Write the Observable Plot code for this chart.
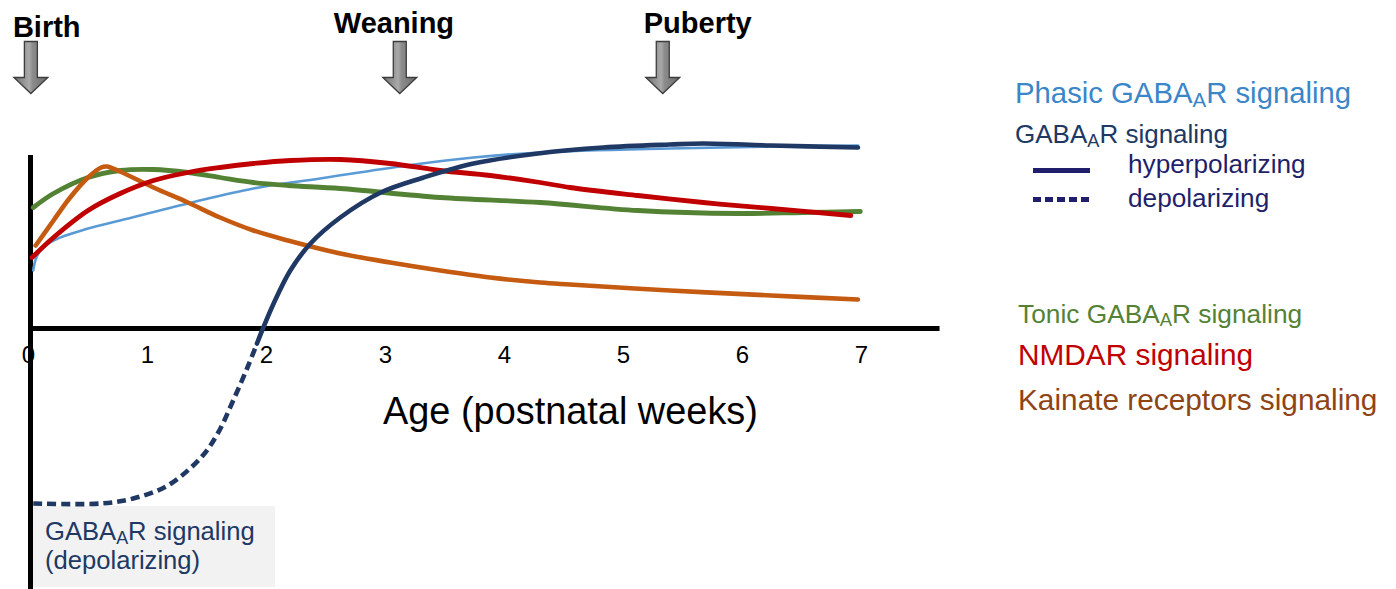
<!DOCTYPE html>
<html><head><meta charset="utf-8">
<script src="https://cdn.jsdelivr.net/npm/d3@7"></script>
<script src="https://cdn.jsdelivr.net/npm/@observablehq/plot@0.6"></script>
<style>
body{margin:0;background:#fff;overflow:hidden}
#wrap{position:relative;width:1396px;height:589px;font-family:"Liberation Sans",Arial,sans-serif}
#wrap svg{position:absolute;left:0;top:0}
.t{position:absolute;white-space:nowrap;line-height:1}
.s{font-size:0.7em;position:relative;top:0.2em;line-height:0}
</style></head><body><div id="wrap"></div>
<script>
// ---- data (age in postnatal weeks, relative signaling level) ----
const xTicks = [0, 1, 2, 3, 4, 5, 6, 7];
const eventNames = ["Birth", "Weaning", "Puberty"];
const eventWeeks = [0.02, 3.12, 5.33];

const phasic = [[0.04,0.58],[0.06,0.69],[0.10,0.78],[0.21,0.88],[0.50,1.00],[0.77,1.08],[1.34,1.25],[1.89,1.40],[2.45,1.50],[3.18,1.63],[3.74,1.71],[4.30,1.76],[5.39,1.80],[6.24,1.82],[6.97,1.83]];
const depolarizing = [[0.04,-1.75],[0.61,-1.75],[0.88,-1.70],[1.17,-1.57],[1.45,-1.29],[1.59,-1.05],[1.72,-0.72],[1.84,-0.39],[1.92,-0.15]];
const hyperpolarizing = [[1.92,-0.15],[1.97,0],[2.06,0.25],[2.20,0.58],[2.37,0.85],[2.62,1.11],[2.96,1.36],[3.32,1.51],[3.74,1.65],[4.28,1.75],[4.83,1.81],[5.39,1.84],[5.67,1.85],[6.24,1.83],[6.97,1.81]];
const tonic = [[0.04,1.21],[0.21,1.35],[0.50,1.51],[0.77,1.58],[1.05,1.59],[1.34,1.56],[1.61,1.51],[1.89,1.46],[2.18,1.43],[2.62,1.40],[3.46,1.31],[4.30,1.26],[5.12,1.18],[5.96,1.15],[6.51,1.16],[6.99,1.17]];
const nmdar = [[0.03,0.71],[0.21,0.91],[0.50,1.18],[0.77,1.35],[1.05,1.48],[1.34,1.56],[1.61,1.61],[1.89,1.65],[2.20,1.68],[2.62,1.69],[3.04,1.65],[3.46,1.58],[3.88,1.53],[4.30,1.46],[4.55,1.41],[5.12,1.33],[5.67,1.26],[6.24,1.20],[6.91,1.13]];
const kainate = [[0.06,0.83],[0.21,1.08],[0.35,1.31],[0.50,1.51],[0.61,1.61],[0.66,1.62],[0.75,1.58],[1.05,1.41],[1.34,1.26],[1.61,1.11],[1.89,0.98],[2.18,0.88],[2.62,0.75],[3.04,0.66],[3.46,0.58],[3.88,0.51],[4.30,0.46],[4.55,0.44],[5.39,0.38],[6.24,0.33],[6.97,0.29]];

// axis extents
const xAxisEnd = 7.66, yAxisTop = 1.73, yAxisBottom = -2.61;

// ---- styles ----
const C = {phasic:"#5b9bd5", gaba:"#203864", tonic:"#548235", nmdar:"#c00000", kainate:"#c55a11"};
const labelDx = [-18, -66, -19];
const labelDy = [36, 32, 32];

const arrowSymbol = {
  draw(ctx, size) {
    const r = Math.sqrt(size / Math.PI);
    ctx.moveTo(-0.25*r, -r);
    ctx.lineTo(0.25*r, -r);
    ctx.lineTo(0.25*r, 0.385*r);
    ctx.lineTo(0.654*r, 0.385*r);
    ctx.lineTo(0, r);
    ctx.lineTo(-0.654*r, 0.385*r);
    ctx.lineTo(-0.25*r, 0.385*r);
    ctx.closePath();
  }
};

const L = (data, stroke, w, extra={}) => Plot.line(data, {x: d=>d[0], y: d=>d[1], stroke, strokeWidth: w, curve: "catmull-rom", ...extra});

const chart = Plot.plot({
  width: 1396, height: 589,
  marginLeft: 28, marginRight: 535, marginTop: 0, marginBottom: 0,
  x: {domain: [0, 7], axis: null},
  y: {domain: [yAxisBottom, 3.28], axis: null},
  style: {fontFamily: '"Liberation Sans", Arial, sans-serif', background: "transparent", overflow: "visible"},
  marks: [
    Plot.text(xTicks, {x: d=>d, y: 0, text: d=>String(d), dy: 27, fontSize: 24, fill: "#000"}),
    Plot.ruleY([0], {x1: 0, x2: xAxisEnd, stroke: "#000", strokeWidth: 5}),
    Plot.ruleX([0], {y1: yAxisBottom, y2: yAxisTop, stroke: "#000", strokeWidth: 5, dx: 2}),
    L(phasic, C.phasic, 2.6),
    L(tonic, C.tonic, 4.8),
    L(kainate, C.kainate, 4.6),
    L(nmdar, C.nmdar, 4.8),
    L(depolarizing, C.gaba, 4.6, {strokeDasharray: "9,5", strokeLinecap: "butt"}),
    L(hyperpolarizing, C.gaba, 4.6),
    Plot.dot(eventWeeks, {x: d=>d, frameAnchor: "top", dy: 67, r: 26, symbol: arrowSymbol, fill: "url(#arrowGrad)", stroke: "#3c3c3c", strokeWidth: 1.3}),
    ...eventNames.map((name, i) => Plot.text([name], {x: () => eventWeeks[i], frameAnchor: "top", text: d=>d, textAnchor: "start", lineAnchor: "bottom", dx: labelDx[i], dy: labelDy[i], fontSize: 29, fontWeight: "bold", fill: "#000"}))
  ]
});

// gradient for the milestone arrows
const NS = "http://www.w3.org/2000/svg";
const defs = document.createElementNS(NS, "defs");
const grad = document.createElementNS(NS, "linearGradient");
grad.setAttribute("id", "arrowGrad");
grad.setAttribute("x1", "0"); grad.setAttribute("x2", "1"); grad.setAttribute("y1", "0"); grad.setAttribute("y2", "0");
[["0","#707070"],["0.45","#a9a9a9"],["0.55","#8c8c8c"],["1","#6a6a6a"]].forEach(([o,c]) => {
  const s = document.createElementNS(NS, "stop"); s.setAttribute("offset", o); s.setAttribute("stop-color", c); grad.appendChild(s);
});
defs.appendChild(grad);
chart.insertBefore(defs, chart.firstChild);

const wrap = document.getElementById("wrap");
wrap.appendChild(chart);

// ---- text overlays ----
const sub = '<span class="s">A</span>';
function add(html, left, baseline, size, color, weight, lh) {
  const d = document.createElement("div");
  d.className = "t";
  d.innerHTML = html;
  d.style.left = left + "px";
  d.style.top = (baseline - 0.8465*size) + "px";
  d.style.fontSize = size + "px";
  d.style.color = color;
  if (lh) d.style.lineHeight = lh + "px";
  if (weight) d.style.fontWeight = weight;
  wrap.appendChild(d);
}
function box(left, top, w, h, bg) {
  const d = document.createElement("div");
  d.style.cssText = `position:absolute;left:${left}px;top:${top}px;width:${w}px;height:${h}px;background:${bg}`;
  wrap.appendChild(d);
  return d;
}
// depolarizing label box (behind text)
const bx = box(33, 506, 242, 81, "#f2f2f2");
wrap.insertBefore(bx, chart);

add("Age (postnatal weeks)", 383, 425, 37.9, "#000");
add(`Phasic GABA${sub}R signaling`, 1015, 103, 29.3, "#3a86c8");
add(`GABA${sub}R signaling`, 1015, 143, 26, "#203864");
add("hyperpolarizing", 1128, 173, 26.2, "#1f1f6b");
add("depolarizing", 1128, 207, 26.2, "#1f1f6b");
box(1033, 167.5, 57, 5, "#1f1f6b");
const dsh = box(1033, 197, 57, 5, "transparent");
dsh.style.background = "repeating-linear-gradient(to right, #1f1f6b 0 8px, transparent 8px 12px)";
add(`Tonic GABA${sub}R signaling`, 1018, 323, 26.3, "#548235");
add("NMDAR signaling", 1018, 365, 29.8, "#c00000");
add("Kainate receptors signaling", 1018, 410, 29.8, "#8f4416");
add(`GABA${sub}R signaling<br>(depolarizing)`, 45, 539, 25.6, "#203864", null, 29);
</script></body></html>
